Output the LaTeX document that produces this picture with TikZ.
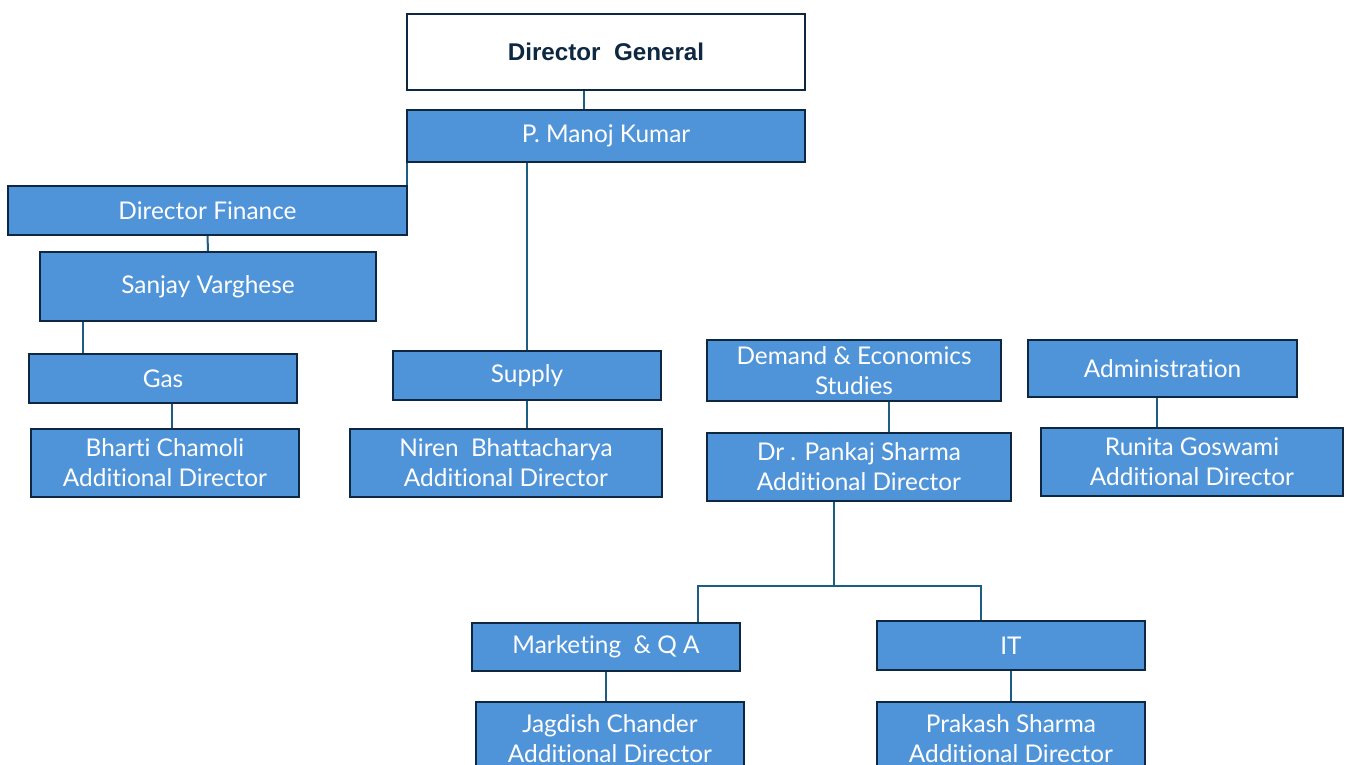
\documentclass[tikz,border=0pt]{standalone}
\usepackage{fontspec}
\setmainfont{Lato}[Ligatures=NoCommon]
\newfontfamily\dgfont{Liberation Sans}
\definecolor{boxblue}{HTML}{4F94D8}
\definecolor{boxline}{HTML}{0E2841}
\definecolor{linkline}{HTML}{1B5E82}
\tikzset{
  orgbox/.style={draw=boxline, line width=1pt, fill=boxblue, text=white, align=center,
    font=\fontsize{12.2}{15}\selectfont, minimum width=134pt, minimum height=24.5pt, inner sep=0pt},
  link/.style={draw=linkline, line width=1pt}
}
\begin{document}
\begin{tikzpicture}[x=0.5pt, y=-0.5pt]
\useasboundingbox (0,0) rectangle (1346,765);
\clip (0,0) rectangle (1346,765);
% Top
\node[orgbox, fill=white, text=boxline, font=\dgfont\bfseries\fontsize{12.1}{14}\selectfont,
  minimum width=199pt, minimum height=38pt] (dg) at (606,52) {Director\ \ General};
\node[orgbox, minimum width=199pt, minimum height=26pt] (manoj) at (606,136) {P. Manoj Kumar};
% Finance branch
\node[orgbox, minimum width=199.5pt] (fin) at (207.5,210.5) {Director Finance};
\node[orgbox, minimum width=168pt, minimum height=34.5pt] (sanjay) at (208,286.5) {Sanjay Varghese};
\node[orgbox] (gas) at (163,378.5) {Gas};
\node[orgbox, minimum height=34pt] (bharti) at (165,463) {Bharti Chamoli\\Additional Director};
% Supply
\node[orgbox] (supply) at (527,375.5) {Supply};
\node[orgbox, minimum width=156pt, minimum height=34pt] (niren) at (506,463) {Niren\ \ Bhattacharya\\Additional Director};
% Demand
\node[orgbox, minimum width=147pt, minimum height=30.5pt] (demand) at (854,370.5) {Demand \& Economics\\Studies};
\node[orgbox, minimum width=152pt, minimum height=34pt] (pankaj) at (859,467) {Dr . Pankaj Sharma\\Additional Director};
\node[orgbox, minimum width=134.5pt, minimum height=28.5pt] (admin) at (1162.5,368.5) {Administration};
\node[orgbox, minimum width=151pt, minimum height=34pt] (runita) at (1192,462) {Runita Goswami\\Additional Director};
% Bottom
\node[orgbox, minimum height=24pt] (mkt) at (606,647) {Marketing\ \ \& Q A};
\node[orgbox] (it) at (1011,645.5) {IT};
\node[orgbox, minimum height=36.5pt] (jagdish) at (610,738.5) {Jagdish Chander\\Additional Director};
\node[orgbox, minimum height=36.5pt] (prakash) at (1011,738.5) {Prakash Sharma\\Additional Director};
% Links
\draw[link] ([xshift=-11pt]dg.south) -- ([xshift=-11pt]manoj.north);
\draw[link] ([xshift=0.5pt]manoj.south west) -- ([xshift=0.5pt]manoj.south west |- fin.north);
\draw[link] (manoj.south -| supply.north) -- (supply.north);
\draw[link] (fin.south) -- (sanjay.north);
\draw[link] ([xshift=-40pt]gas.north) -- ([xshift=-40pt]gas.north |- sanjay.south);
\draw[link] ([xshift=4.5pt]gas.south) -- ([xshift=4.5pt]gas.south |- bharti.north);
\draw[link] (supply.south) -- (niren.north -| supply.south);
\draw[link] ([xshift=17.5pt]demand.south) -- ([xshift=17.5pt]demand.south |- pankaj.north);
\draw[link] ([xshift=-2.75pt]admin.south) -- ([xshift=-2.75pt]admin.south |- runita.north);
\coordinate (split) at (834,586);
\draw[link] ([xshift=-12.5pt]pankaj.south) -- (split);
\draw[link] ([xshift=46pt]mkt.north) |- (split) -| ([xshift=-15pt]it.north);
\draw[link] (mkt.south) -- (mkt.south |- jagdish.north);
\draw[link] (it.south) -- (prakash.north);
\end{tikzpicture}
\end{document}
